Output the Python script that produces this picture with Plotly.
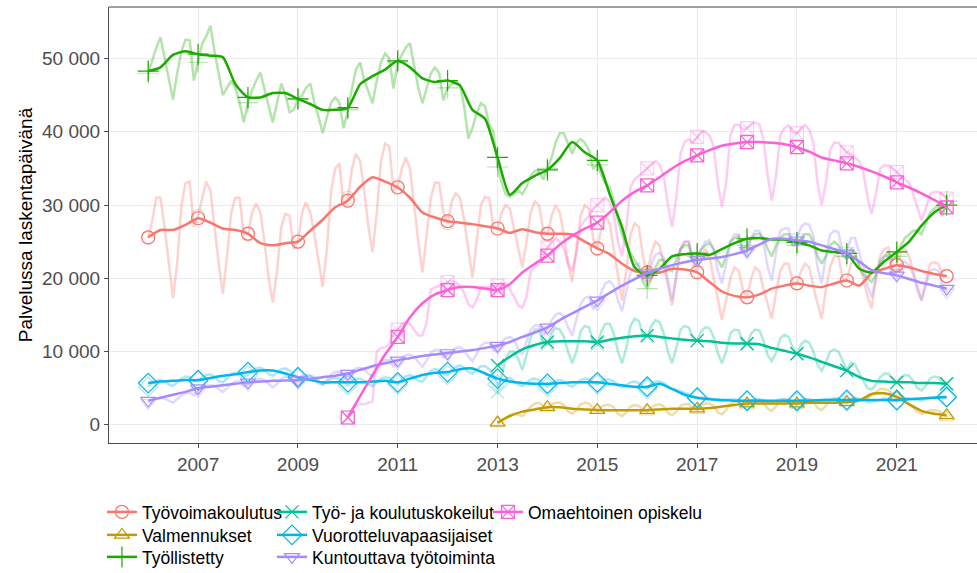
import plotly.graph_objects as go
import pandas as pd

# ---------------- data (thousands of days) ----------------
series_names = ["Työvoimakoulutus", "Valmennukset", "Työllistetty",
                "Työ- ja koulutuskokeilut", "Vuorotteluvapaasijaiset",
                "Kuntouttava työtoiminta", "Omaehtoinen opiskelu"]
start_years = [2006, 2013, 2006, 2013, 2006, 2006, 2010]
end_date = "2022-01-01"

# monthly raw values, Jan..Dec per year, last value Jan 2022
tyovoimakoulutus_raw = [
    25.5, 28, 31, 31, 27, 22, 17.3, 22, 30, 33, 33.2, 27,
    28.5, 31, 33.2, 32, 27, 22, 17.9, 23, 29, 31, 31, 26,
    26, 29, 30.2, 29, 25, 20, 16.7, 21, 27, 28.8, 28.5, 24,
    25, 29, 30.4, 29, 26, 22, 18.8, 24, 32, 35, 35.7, 30,
    31, 35, 37, 36, 32, 27, 23.6, 29, 36, 38.4, 38, 32,
    32.5, 35, 36.5, 35, 30, 25, 20.8, 26, 31, 33.1, 33, 29,
    27.5, 30.5, 31.6, 31, 28, 24, 20.1, 25, 30, 31.1, 31, 27,
    26.8, 29, 30, 29.5, 27, 24, 21.5, 25, 29, 30.5, 30, 26.5,
    26, 28.5, 30, 29, 26, 22, 19.5, 24, 28.5, 30, 29.5, 25.5,
    24, 27, 28.5, 27.5, 24, 20, 17, 21, 26, 27.5, 27, 23,
    20.5, 23.5, 25, 24.5, 22, 19, 16.3, 20, 24, 25, 25, 22,
    21, 23, 24, 23, 20, 17, 14.3, 17, 20, 21.5, 21, 18.5,
    17.5, 20, 21.5, 21, 18.5, 16.5, 14.5, 18, 21, 22, 22, 19.5,
    19.3, 21, 22, 21.5, 19, 16.5, 14.5, 18.5, 21.5, 23, 23, 20,
    19.7, 22, 23.1, 22, 20, 17.5, 15.9, 20, 23, 24, 24.2, 21.5,
    22, 23.5, 24, 23, 21, 19, 17, 19.5, 22, 22.2, 22, 20.5,
    20.3]
valmennukset_raw = [
    0.2, 0.5, 0.9, 1.3, 1.5, 1.3, 1.2, 1.8, 2.5, 2.9, 3.0, 2.6,
    2.3, 2.8, 3.0, 3.0, 2.7, 1.8, 1.5, 2.0, 2.8, 3.0, 2.9, 2.3,
    2.0, 2.5, 2.7, 2.7, 2.4, 1.5, 1.2, 1.7, 2.5, 2.7, 2.6, 2.1,
    1.8, 2.4, 2.7, 2.8, 2.5, 1.6, 1.3, 1.8, 2.6, 2.8, 2.8, 2.3,
    2.0, 2.6, 2.9, 2.9, 2.6, 1.7, 1.4, 2.0, 2.9, 3.1, 3.1, 2.7,
    2.6, 3.2, 3.4, 3.4, 3.1, 2.2, 1.9, 2.5, 3.3, 3.5, 3.4, 3.0,
    2.7, 3.3, 3.5, 3.5, 3.2, 2.3, 2.0, 2.6, 3.4, 3.6, 3.6, 3.2,
    3.0, 3.5, 3.7, 3.5, 3.4, 3.6, 4.0, 4.5, 4.9, 4.9, 4.7, 4.2,
    3.6, 3.5, 3.2, 2.8, 2.4, 1.8, 1.5, 1.7, 2.0, 2.0, 1.9, 1.6,
    1.0]
tyollistetty_raw = [
    48, 50, 51.5, 52.9, 50, 47, 44.4, 48, 51, 52.6, 52.5, 47,
    49.5, 52.1, 53, 54.5, 51, 48, 45, 46, 47, 46, 44, 41.3,
    44, 45.7, 47, 48.1, 46, 43.5, 41.3, 44, 46.6, 45, 42.7, 43,
    44.5, 45, 46, 46.6, 44, 42, 39.8, 42, 44, 44.7, 44, 40.5,
    43, 46, 48.5, 49.5, 47, 45.5, 43.9, 47, 49.5, 50.7, 50, 45.9,
    49.5, 50.5, 51.5, 52.1, 49, 46, 43.9, 46, 48, 48.8, 48, 44.3,
    46, 46.5, 46.8, 46.5, 43.5, 39.1, 40.5, 42.5, 43.9, 43.5, 41, 40,
    35.2, 33, 31.5, 31.1, 31.5, 32, 31.5, 32.5, 34, 34.7, 34.5, 33.5,
    35, 36.5, 38.5, 39.8, 39.8, 38.5, 37, 38.5, 39, 38.5, 37.5, 35,
    35.5, 34, 33, 32.5, 30.5, 28, 26, 24.5, 23.5, 22.5, 21.5, 19.5,
    18.6, 20, 21.5, 22.5, 22.5, 21.5, 21, 22.5, 24, 24.5, 24.5, 22.5,
    23, 24, 24.5, 24.8, 24, 22.5, 21.5, 23, 25, 25.5, 25.8, 24,
    24.5, 25.5, 26, 26.1, 25.5, 24, 23, 24.5, 25.5, 26, 26, 24.5,
    24.5, 25.5, 26, 26, 25, 23, 22, 23, 24.5, 25, 24.5, 23,
    23, 24, 23.5, 21.5, 20.5, 20, 19.5, 20.5, 22, 23, 23.5, 22.5,
    23, 24.5, 25.5, 26, 26.5, 26.5, 26, 27.5, 29, 29.5, 30, 28.5,
    30.5]
kokeilut_raw = [
    4.5, 7.0, 9.0, 10.0, 10.0, 9.0, 7.5, 9.5, 12.0, 13.0, 13.0, 11.0,
    11.0, 12.5, 13.2, 13.0, 12.0, 10.0, 8.4, 10.0, 12.8, 13.5, 13.3, 11.5,
    11.0, 12.8, 13.8, 13.8, 12.5, 10.0, 8.4, 10.5, 13.5, 14.5, 14.2, 12.3,
    12.0, 13.5, 14.3, 14.0, 12.5, 10.0, 8.4, 10.5, 13.0, 13.5, 13.3, 11.8,
    11.5, 12.8, 13.3, 13.2, 12.0, 9.8, 8.4, 10.0, 12.5, 13.0, 12.9, 11.2,
    11.0, 12.5, 13.0, 12.9, 11.5, 9.5, 8.7, 9.8, 11.8, 12.3, 12.0, 10.5,
    9.7, 11.0, 11.5, 11.2, 10.0, 8.2, 7.4, 8.5, 10.0, 10.3, 10.0, 8.8,
    7.5, 8.5, 8.3, 7.0, 6.0, 5.0, 4.8, 5.5, 6.5, 7.0, 7.0, 6.2,
    5.8, 6.5, 6.8, 6.7, 6.0, 5.0, 4.7, 5.3, 6.3, 6.6, 6.5, 5.8,
    5.6]
vuorottelu_raw = [
    5.2, 5.8, 6.0, 6.1, 5.9, 5.5, 5.3, 5.8, 6.3, 6.6, 6.5, 6.0,
    6.0, 6.5, 6.8, 6.9, 6.6, 6.0, 5.8, 6.3, 6.9, 7.1, 7.0, 6.6,
    6.8, 7.4, 7.7, 7.8, 7.5, 6.9, 6.7, 7.1, 7.6, 7.7, 7.4, 6.9,
    6.3, 6.7, 6.8, 6.7, 6.3, 5.7, 5.5, 5.8, 6.3, 6.4, 6.3, 5.8,
    5.4, 6.0, 6.3, 6.3, 6.0, 5.5, 5.3, 5.8, 6.3, 6.5, 6.4, 5.9,
    5.5, 6.2, 6.6, 6.8, 6.6, 6.0, 5.9, 6.6, 7.4, 7.6, 7.5, 7.0,
    6.8, 7.4, 7.9, 8.1, 7.8, 7.2, 7.0, 7.5, 8.0, 8.0, 7.6, 6.8,
    5.5, 6.0, 6.3, 6.4, 6.0, 5.5, 5.3, 5.7, 6.2, 6.3, 6.1, 5.6,
    5.2, 5.7, 6.0, 6.1, 5.9, 5.4, 5.2, 5.6, 6.1, 6.3, 6.2, 5.8,
    5.5, 5.9, 6.2, 6.2, 5.9, 5.4, 5.1, 5.4, 5.8, 5.9, 5.7, 5.2,
    4.9, 5.6, 5.9, 5.9, 5.7, 5.3, 4.9, 4.8, 4.6, 4.4, 4.2, 3.9,
    3.6, 3.7, 3.7, 3.6, 3.5, 3.3, 3.2, 3.4, 3.5, 3.5, 3.4, 3.3,
    3.2, 3.4, 3.5, 3.5, 3.4, 3.2, 3.1, 3.3, 3.5, 3.5, 3.4, 3.2,
    3.1, 3.4, 3.5, 3.5, 3.4, 3.2, 3.1, 3.3, 3.5, 3.6, 3.5, 3.3,
    3.2, 3.5, 3.6, 3.5, 3.3, 3.1, 3.1, 3.3, 3.5, 3.6, 3.5, 3.4,
    3.3, 3.5, 3.6, 3.6, 3.5, 3.4, 3.3, 3.5, 3.7, 3.8, 3.8, 3.7,
    3.7]
kuntouttava_raw = [
    3.0, 3.4, 3.6, 3.7, 3.6, 3.3, 3.0, 3.5, 4.0, 4.3, 4.4, 4.0,
    4.6, 5.0, 5.3, 5.4, 5.3, 4.9, 4.5, 5.0, 5.6, 5.9, 5.9, 5.3,
    5.5, 5.9, 6.2, 6.3, 6.1, 5.6, 5.1, 5.6, 6.3, 6.6, 6.5, 5.9,
    5.8, 6.3, 6.6, 6.7, 6.5, 6.0, 5.5, 6.1, 6.9, 7.2, 7.2, 6.5,
    6.7, 7.3, 7.7, 7.8, 7.6, 7.0, 6.5, 7.3, 8.4, 8.8, 8.8, 7.9,
    8.5, 9.2, 9.5, 9.6, 9.3, 8.5, 7.9, 8.8, 9.9, 10.2, 10.2, 9.2,
    9.5, 10.1, 10.5, 10.6, 10.2, 9.3, 8.7, 9.7, 10.8, 11.2, 11.2, 10.2,
    10.5, 11.3, 11.8, 12.0, 11.6, 10.4, 9.6, 11.4, 13.0, 13.6, 13.6, 12.2,
    13.0, 14.3, 15.0, 15.3, 14.8, 13.3, 12.2, 14.4, 16.5, 17.3, 17.5, 15.8,
    16.5, 18.2, 19.3, 19.6, 19.0, 17.0, 15.5, 18.2, 20.8, 21.8, 22.0, 20.0,
    20.2, 22.0, 23.2, 23.5, 22.8, 19.8, 17.0, 20.5, 24.0, 25.0, 25.0, 22.5,
    22.7, 24.0, 25.0, 25.2, 24.0, 21.0, 19.3, 22.0, 25.0, 26.0, 26.0, 23.5,
    23.5, 25.5, 26.5, 26.5, 25.0, 21.5, 19.7, 23.5, 26.5, 26.8, 26.8, 24.5,
    25.6, 27.0, 27.5, 27.3, 25.8, 21.5, 19.3, 23.0, 26.0, 26.5, 26.3, 23.5,
    23.8, 25.5, 25.5, 23.5, 21.5, 19.0, 17.4, 20.0, 22.5, 23.0, 23.0, 20.5,
    20.8, 22.0, 22.3, 21.8, 20.5, 18.3, 17.0, 19.0, 21.0, 21.3, 21.0, 19.0,
    18.1]
omaehtoinen_raw = [
    1.0, 2.0, 2.6, 2.8, 2.8, 3.0, 3.2, 10.0, 10.5, 10.6, 11.0, 12.5,
    13.0, 13.8, 14.0, 13.8, 13.0, 12.2, 12.2, 14.0, 18.5, 18.8, 19.0, 19.2,
    19.5, 19.7, 19.5, 19.0, 18.0, 16.5, 16.0, 17.0, 18.8, 18.8, 18.8, 18.8,
    19.0, 19.3, 19.3, 18.5, 17.5, 16.3, 16.0, 17.5, 21.0, 21.5, 22.0, 23.0,
    24.2, 25.0, 25.5, 25.0, 24.0, 22.0, 21.0, 23.5, 27.0, 27.9, 28.5, 29.5,
    30.0, 30.6, 31.0, 30.5, 29.0, 25.0, 23.0, 27.0, 32.5, 33.5, 34.0, 34.5,
    35.0, 35.5, 36.0, 35.5, 34.0, 30.0, 27.0, 31.0, 37.0, 38.6, 39.0, 38.5,
    39.3, 40.0, 40.0, 39.5, 38.0, 33.0, 29.7, 33.0, 39.5, 40.9, 41.0, 40.3,
    40.5, 41.0, 41.3, 41.0, 39.0, 34.0, 30.6, 34.0, 39.5, 40.5, 40.9, 40.0,
    39.8, 40.5, 40.9, 40.3, 38.5, 33.0, 30.0, 33.0, 37.5, 38.5, 38.5, 37.8,
    37.2, 37.0, 36.5, 36.0, 34.5, 31.0, 28.8, 31.5, 35.0, 35.4, 35.4, 35.0,
    34.5, 34.0, 33.5, 33.0, 31.5, 29.5, 27.9, 29.5, 31.5, 31.8, 31.8, 31.5,
    30.9]

# quarterly trend values (Jan, Apr, Jul, Oct), last value Jan 2022
tyovoimakoulutus_trend = [
    25.6, 26.6, 26.6, 27.3, 28.2, 27.6, 26.8, 26.6, 26.1, 24.8, 24.5, 24.8,
    25.0, 26.5, 28.0, 29.7, 30.6, 32.5, 33.8, 33.2, 32.4, 31.0, 29.0, 28.3,
    27.8, 27.6, 27.4, 27.1, 26.8, 26.2, 26.7, 26.3, 26.1, 26.1, 26.0, 25.0,
    24.1, 23.3, 22.0, 21.0, 20.8, 20.8, 21.3, 21.2, 20.8, 19.5, 18.2, 17.6,
    17.4, 17.8, 18.6, 19.0, 19.3, 19.0, 18.8, 19.3, 19.7, 19.0, 20.7, 21.3,
    21.8, 21.5, 21.0, 20.6, 20.3]
valmennukset_trend = [
    0.3, 1.2, 1.8, 2.1, 2.4, 2.4, 2.2, 2.1, 2.0, 2.0, 2.0, 2.0,
    2.0, 2.1, 2.2, 2.2, 2.2, 2.3, 2.5, 2.7, 2.9, 2.9, 2.9, 2.9,
    2.9, 3.0, 3.0, 3.0, 3.1, 3.3, 4.2, 4.3, 3.8, 2.8, 1.9, 1.5,
    1.3]
tyollistetty_trend = [
    48.3, 48.8, 50.5, 51.0, 50.6, 50.4, 50.2, 46.5, 44.7, 44.7, 45.3, 45.3,
    44.5, 43.8, 43.0, 43.0, 43.3, 46.5, 47.6, 48.5, 49.7, 48.8, 47.3, 46.8,
    47.0, 46.3, 43.0, 41.8, 36.5, 31.4, 33.0, 34.0, 34.8, 36.4, 38.6, 37.2,
    36.1, 31.5, 27.0, 21.5, 20.4, 21.3, 23.0, 23.3, 23.4, 23.2, 24.0, 24.8,
    25.4, 25.5, 25.3, 25.3, 24.9, 24.5, 23.8, 23.6, 23.4, 21.3, 20.8, 22.3,
    23.6, 25.0, 27.2, 29.0, 30.0]
kokeilut_trend = [
    8.1, 9.3, 10.3, 10.9, 11.3, 11.4, 11.4, 11.4, 11.3, 11.6, 11.9, 12.1,
    12.2, 12.0, 11.8, 11.6, 11.5, 11.4, 11.2, 11.1, 11.1, 11.0, 10.5, 10.1,
    9.7, 9.2, 8.6, 8.0, 7.4, 6.5, 6.0, 5.9, 5.8, 5.8, 5.7, 5.7,
    5.6]
vuorottelu_trend = [
    5.7, 5.9, 6.0, 6.1, 6.1, 6.4, 6.7, 6.9, 7.2, 7.4, 7.4, 7.0,
    6.5, 6.1, 5.8, 5.8, 5.8, 5.8, 5.9, 6.0, 5.8, 6.3, 6.8, 7.1,
    7.2, 7.6, 7.7, 7.0, 6.3, 5.9, 5.7, 5.6, 5.6, 5.7, 5.8, 5.8,
    5.8, 5.6, 5.4, 5.2, 5.2, 5.6, 4.9, 4.1, 3.7, 3.5, 3.4, 3.3,
    3.3, 3.3, 3.3, 3.3, 3.3, 3.3, 3.4, 3.4, 3.4, 3.4, 3.4, 3.4,
    3.4, 3.5, 3.6, 3.7, 3.8]
kuntouttava_trend = [
    3.3, 3.7, 4.1, 4.5, 5.0, 5.2, 5.4, 5.6, 5.8, 5.9, 6.0, 6.05,
    6.1, 6.3, 6.5, 6.7, 7.0, 7.5, 8.0, 8.4, 8.8, 9.1, 9.4, 9.6,
    9.8, 10.0, 10.2, 10.5, 10.8, 11.3, 12.0, 12.6, 13.3, 14.3, 15.2, 16.1,
    17.0, 18.0, 19.0, 19.9, 20.7, 21.3, 21.8, 22.2, 22.5, 22.7, 22.9, 23.3,
    23.8, 24.6, 25.4, 25.4, 25.2, 25.0, 24.5, 24.0, 23.4, 22.3, 21.1, 20.7,
    20.4, 19.9, 19.4, 19.0, 18.6]
omaehtoinen_trend = [
    1.0, 3.9, 6.8, 9.6, 12.0, 14.7, 16.6, 17.8, 18.4, 18.8, 18.8, 18.6,
    18.4, 19.2, 20.8, 22.0, 23.1, 24.6, 25.8, 26.8, 27.6, 29.0, 30.6, 31.8,
    32.7, 33.8, 35.0, 36.0, 36.8, 37.5, 38.1, 38.4, 38.6, 38.6, 38.5, 38.3,
    37.9, 37.3, 36.5, 36.1, 35.7, 35.2, 34.6, 33.9, 33.1, 32.4, 31.6, 30.7,
    29.7]

raw_series = [tyovoimakoulutus_raw, valmennukset_raw, tyollistetty_raw, kokeilut_raw,
              vuorottelu_raw, kuntouttava_raw, omaehtoinen_raw]
trend_series = [tyovoimakoulutus_trend, valmennukset_trend, tyollistetty_trend, kokeilut_trend,
                vuorottelu_trend, kuntouttava_trend, omaehtoinen_trend]

y_tick_values = [0, 10000, 20000, 30000, 40000, 50000]
y_tick_labels = ["0", "10 000", "20 000", "30 000", "40 000", "50 000"]
x_tick_years = [2007, 2009, 2011, 2013, 2015, 2017, 2019, 2021]

# ---------------- styles ----------------
colors = ["#F8766D", "#C49A00", "#1AAA00", "#00C094", "#00B6EB", "#A58AFF", "#FB61D7"]
symbols = ["circle-open", "triangle-up-open", "cross-thin-open", "x-thin-open",
           "diamond-open", "triangle-down-open", "square-x-open"]
msizes = [13, 13, 15, 13, 15, 13, 13]
# legend placement (3 columns, ggplot-style column-wise order)
legend_x = [-0.0081, -0.0081, -0.0081, 0.1878, 0.1878, 0.1878, 0.4366]
legend_y = [-0.1583, -0.2110, -0.2615, -0.1583, -0.2110, -0.2615, -0.1583]
FONT = "Liberation Sans, Arial, sans-serif"


def rgba(hexcol, a):
    h = hexcol.lstrip("#")
    return "rgba(%d,%d,%d,%.2f)" % (int(h[0:2], 16), int(h[2:4], 16), int(h[4:6], 16), a)


fig = go.Figure()

for i, name in enumerate(series_names):
    start = "%d-01-01" % start_years[i]
    mdates = pd.date_range(start, end_date, freq="MS")
    raw = [v * 1000 for v in raw_series[i]]
    faint = rgba(colors[i], 0.33)
    fig.add_trace(go.Scatter(x=mdates, y=raw, mode="lines",
                             line=dict(color=faint, width=2.5),
                             showlegend=False, hoverinfo="skip"))
    fig.add_trace(go.Scatter(x=mdates[::12], y=raw[::12], mode="markers",
                             marker=dict(symbol=symbols[i], size=msizes[i], color=faint,
                                         line=dict(color=faint, width=1.2)),
                             showlegend=False, hoverinfo="skip"))

for i, name in enumerate(series_names):
    start = "%d-01-01" % start_years[i]
    qdates = pd.date_range(start, end_date, freq="QS")
    trend = [v * 1000 for v in trend_series[i]]
    col = colors[i]
    fig.add_trace(go.Scatter(x=qdates, y=trend, mode="lines",
                             line=dict(color=col, width=2.5, shape="spline", smoothing=0.6),
                             showlegend=False, hoverinfo="skip"))
    fig.add_trace(go.Scatter(x=qdates[::4], y=trend[::4], mode="markers",
                             marker=dict(symbol=symbols[i], size=msizes[i], color=col,
                                         line=dict(color=col, width=1.2)),
                             showlegend=False, hoverinfo="skip"))

# legend entries: one legend per item so rows/columns can be placed like ggplot
legend_layout = {}
for i, name in enumerate(series_names):
    col = colors[i]
    lid = "legend" if i == 0 else "legend%d" % (i + 1)
    fig.add_trace(go.Scatter(x=[None], y=[None], mode="lines+markers", name=name,
                             line=dict(color=col, width=2.5),
                             marker=dict(symbol=symbols[i], size=msizes[i], color=col,
                                         line=dict(color=col, width=1.2)),
                             legend=lid))
    legend_layout[lid] = dict(x=legend_x[i], y=legend_y[i], xanchor="left", yanchor="middle",
                              orientation="v", bgcolor="rgba(0,0,0,0)", itemwidth=30,
                              font=dict(family=FONT, size=17.5, color="#000000"))

fig.update_layout(
    width=977, height=573,
    margin=dict(l=109, r=0, t=7, b=130, autoexpand=False),
    paper_bgcolor="white", plot_bgcolor="white",
    font=dict(family=FONT, size=19, color="#4D4D4D"),
    xaxis=dict(type="date", range=["2005-03-20", "2022-08-11"], automargin=False,
               tickvals=["%d-01-01" % y for y in x_tick_years],
               ticktext=[str(y) for y in x_tick_years],
               showgrid=True, gridcolor="#EBEBEB", gridwidth=1.1,
               showline=True, linecolor="#4D4D4D", linewidth=1.1,
               ticks="outside", ticklen=4, tickcolor="#4D4D4D", tickwidth=1.1,
               tickfont=dict(family=FONT, size=19, color="#4D4D4D"), zeroline=False),
    yaxis=dict(range=[-2485, 57045], automargin=False,
               tickvals=y_tick_values, ticktext=y_tick_labels,
               showgrid=True, gridcolor="#EBEBEB", gridwidth=1.1,
               showline=True, linecolor="#4D4D4D", linewidth=1.1,
               ticks="outside", ticklen=4, tickcolor="#4D4D4D", tickwidth=1.1,
               tickfont=dict(family=FONT, size=19, color="#4D4D4D"), zeroline=False,
               title=dict(text="Palvelussa laskentapäivänä",
                          font=dict(family=FONT, size=19, color="#000000"), standoff=4)),
    **legend_layout,
)

fig.add_shape(type="line", xref="paper", yref="paper", x0=0, x1=1, y0=1, y1=1,
              line=dict(color="#A0A0A0", width=2))

fig.write_html("out.html", config={"displayModeBar": False},
               post_script="document.body.style.margin='0';")
